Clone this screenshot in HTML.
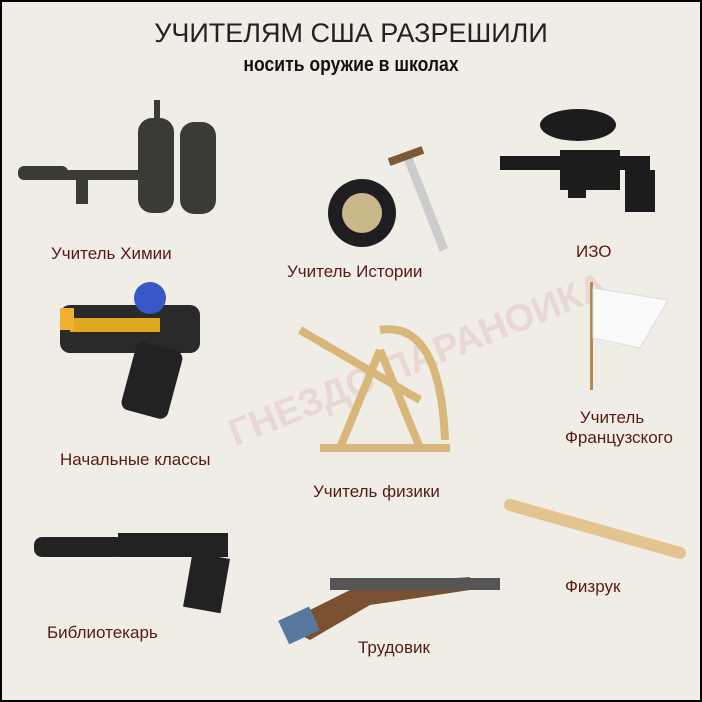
<!DOCTYPE html>
<html><head><meta charset="utf-8"><style>
body{margin:0;width:702px;height:702px;overflow:hidden;background:#000}
.f{position:absolute;left:2px;top:2px;width:698px;height:698px;background:#efede6}
.t{position:absolute;font-family:"Liberation Sans",sans-serif;color:#5a1a14;font-size:17px;white-space:nowrap}
svg{position:absolute;left:0;top:0}
</style></head><body><div class="f"></div>
<svg width="702" height="702">
<text x="50%" y="42" text-anchor="middle" font-family="Liberation Sans,sans-serif" font-size="27" fill="#222">УЧИТЕЛЯМ США РАЗРЕШИЛИ</text>
<text x="50%" y="71" text-anchor="middle" font-family="Liberation Sans,sans-serif" font-size="20" font-weight="bold" fill="#111" transform="translate(351,0) scale(0.88,1) translate(-351,0)">носить оружие в школах</text>
<text x="200" y="395" font-family="Liberation Sans,sans-serif" font-size="38" font-weight="bold" fill="#e8d2cc" transform="rotate(-22 350 330)" opacity="0.8">ГНЕЗДО ПАРАНОИКА</text>
<!-- flamethrower -->
<g fill="#3b3b36">
<rect x="138" y="118" width="36" height="95" rx="14"/><rect x="180" y="122" width="36" height="92" rx="14"/>
<rect x="18" y="166" width="50" height="14" rx="6"/><rect x="60" y="170" width="90" height="10"/>
<rect x="76" y="178" width="12" height="26"/><rect x="154" y="100" width="6" height="22"/>
</g>
<!-- shield & sword -->
<circle cx="362" cy="213" r="34" fill="#1e1e20"/><circle cx="362" cy="213" r="20" fill="#c9b98a"/>
<polygon points="404,160 412,156 448,248 440,252" fill="#ccc"/><rect x="388" y="152" width="36" height="8" fill="#7a5a3a" transform="rotate(-20 406 156)"/>
<!-- paintball -->
<g fill="#1c1c1c"><ellipse cx="578" cy="125" rx="38" ry="16"/><rect x="500" y="156" width="150" height="14"/><rect x="560" y="150" width="60" height="40"/><rect x="568" y="168" width="18" height="30"/><rect x="625" y="170" width="30" height="42"/></g>
<!-- toy gun -->
<g><rect x="60" y="305" width="140" height="48" rx="10" fill="#2a2a2a"/><rect x="70" y="318" width="90" height="14" fill="#e0a820"/><rect x="128" y="345" width="48" height="70" rx="8" fill="#222" transform="rotate(15 150 380)"/><circle cx="150" cy="298" r="16" fill="#3858c8"/><rect x="60" y="308" width="14" height="22" fill="#f0b030"/></g>
<!-- flag -->
<rect x="590" y="282" width="3" height="108" fill="#b08a50"/><polygon points="593,288 668,300 640,348 593,338" fill="#fafafa" stroke="#ddd"/>
<!-- catapult -->
<g stroke="#d9b67a" stroke-width="8" fill="none"><line x1="320" y1="448" x2="450" y2="448"/><line x1="340" y1="448" x2="380" y2="350"/><line x1="420" y1="448" x2="380" y2="350"/><line x1="300" y1="330" x2="420" y2="400"/><path d="M380 330 Q440 320 445 440"/></g>
<!-- bat -->
<line x1="510" y1="505" x2="680" y2="553" stroke="#e3c38f" stroke-width="12" stroke-linecap="round"/>
<!-- pistol -->
<g fill="#222"><rect x="34" y="537" width="90" height="20" rx="8"/><rect x="118" y="533" width="110" height="24"/><rect x="188" y="555" width="38" height="55" transform="rotate(10 205 580)"/></g>
<!-- shotgun -->
<g><polygon points="280,625 360,585 470,577 470,590 370,605 310,640" fill="#7a5030"/><rect x="330" y="578" width="170" height="12" fill="#555"/><rect x="282" y="612" width="34" height="26" fill="#5878a0" transform="rotate(-25 300 625)"/></g>
</svg>
<div class="t" style="left:51px;top:244px">Учитель Химии</div>
<div class="t" style="left:287px;top:262px">Учитель Истории</div>
<div class="t" style="left:576px;top:242px">ИЗО</div>
<div class="t" style="left:60px;top:450px">Начальные классы</div>
<div class="t" style="left:577px;top:408px;text-align:center;width:70px">Учитель<br><span style="margin-left:-12px">Французского</span></div>
<div class="t" style="left:313px;top:482px">Учитель физики</div>
<div class="t" style="left:47px;top:623px">Библиотекарь</div>
<div class="t" style="left:358px;top:638px">Трудовик</div>
<div class="t" style="left:565px;top:577px">Физрук</div>
</body></html>
